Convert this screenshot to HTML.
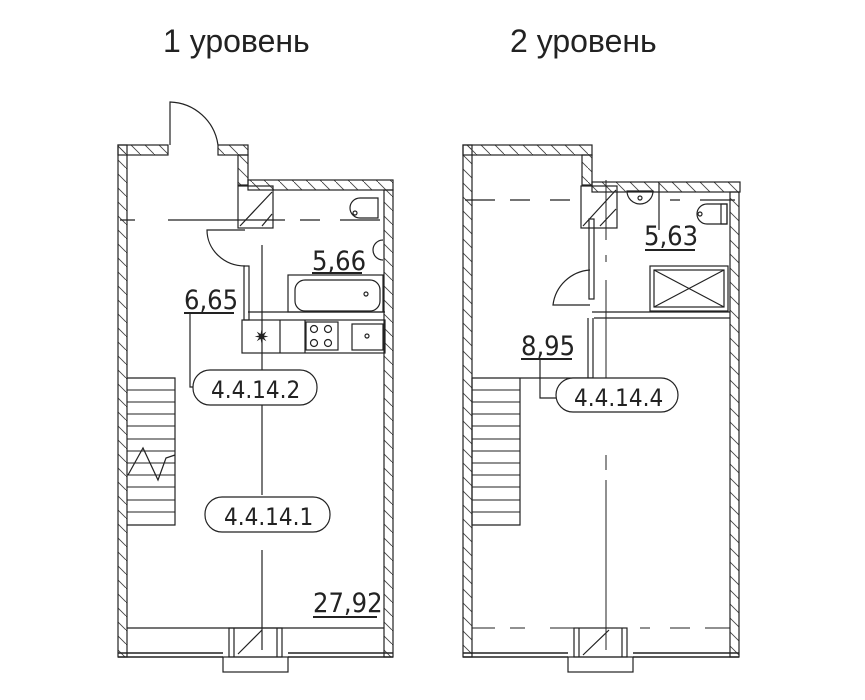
<!DOCTYPE html>
<html><head><meta charset="utf-8"><style>
html,body{margin:0;padding:0;background:#fff;}
svg{display:block;}
text{font-family:"Liberation Sans","DejaVu Sans",sans-serif;}
.d{font-family:"DejaVu Sans Condensed","Liberation Sans Narrow","Liberation Sans",sans-serif;}
</style></head><body>
<svg width="865" height="700" viewBox="0 0 865 700" xmlns="http://www.w3.org/2000/svg">
<defs>
<pattern id="h" width="14" height="14" patternUnits="userSpaceOnUse"><path d="M0,0 L14,14" stroke="#444" stroke-width="0.9"/></pattern>
</defs>
<g fill="none" stroke="#222" stroke-width="1.2">
<text x="163" y="52" font-size="32" fill="#222" stroke="none" font-weight="300">1 уровень</text>
<text x="510" y="52" font-size="32" fill="#222" stroke="none" font-weight="300">2 уровень</text>

<!-- LEFT PLAN -->
<rect x="118" y="145" width="9" height="512" fill="url(#h)"/>
<rect x="118" y="145" width="50" height="10" fill="url(#h)"/>
<rect x="218" y="145" width="30" height="10" fill="url(#h)"/>
<rect x="238" y="155" width="10" height="30" fill="url(#h)"/>
<rect x="248" y="180" width="145" height="10" fill="url(#h)"/>
<rect x="384" y="190" width="9" height="467" fill="url(#h)"/>
<path d="M170,145 V102 A50,50 0 0 1 218,145"/>
<path d="M120,220 H135 M168,220 H285 M300,220 H320 M340,220 H380"/>
<rect x="238" y="186" width="35" height="42"/>
<path d="M240,226 L272,192 M262,226 L272,214"/>
<path d="M245,230 H207 A38,36 0 0 0 245,266"/>
<rect x="244" y="266" width="5" height="54"/>
<path d="M248,312 H385"/>
<rect x="288" y="275" width="95" height="37"/>
<rect x="295" y="280" width="85" height="31" rx="10"/>
<circle cx="366" cy="294" r="2"/>
<path d="M350,208 a10,10 0 0 1 10,-10 h18 v20 h-18 a10,10 0 0 1 -10,-10z"/>
<circle cx="355" cy="213" r="2"/>
<path d="M383,240 a10,10 0 0 0 0,20"/>
<rect x="242" y="320" width="143" height="33"/>
<path d="M280,320 V353 M305,320 V353"/>
<rect x="306" y="322" width="32" height="28"/>
<circle cx="314" cy="329" r="3.5"/><circle cx="328" cy="329" r="3.5"/><circle cx="314" cy="343" r="3.5"/><circle cx="328" cy="343" r="3.5"/>
<rect x="352" y="324" width="31" height="26"/>
<circle cx="367" cy="336" r="2"/>
<text x="254" y="343" font-size="18" fill="#222" stroke="none">✷</text>
<text class="d" x="312" y="270" font-size="27" fill="#222" stroke="none">5,66</text>
<path d="M312,273 H362" stroke-width="2"/>
<text class="d" x="184" y="309" font-size="27" fill="#222" stroke="none">6,65</text>
<path d="M184,313 H234" stroke-width="2"/>
<path d="M190,313 V387 H194"/>
<path d="M262,245 V495 M262,550 V650"/>
<rect x="193" y="370" width="124" height="35" rx="17" fill="#fff"/>
<text class="d" x="211" y="398" font-size="24" fill="#222" stroke="none">4.4.14.2</text>
<rect x="205" y="497" width="125" height="35" rx="17" fill="#fff"/>
<text class="d" x="224" y="525" font-size="24" fill="#222" stroke="none">4.4.14.1</text>
<text class="d" x="313" y="612" font-size="27" fill="#222" stroke="none">27,92</text>
<path d="M313,617 H377" stroke-width="2"/>
<path d="M127,378 H175 V525 H127"/>
<path d="M127,390H175M127,402H175M127,414H175M127,426H175M127,439H175M127,451H175M127,463H175M127,475H175M127,487H175M127,500H175M127,512H175" stroke-width="1"/>
<path d="M128,475 L143,448 L158,480 L166,458 L175,455"/>
<path d="M127,628 H384"/>
<path d="M118,653 H223 M288,653 H393 M118,657 H223 M288,657 H393" stroke-width="1.5"/>
<rect x="229" y="628" width="53" height="29"/>
<path d="M234,628 V657 M277,628 V657 M238,654 L262,630"/>
<rect x="223" y="657" width="65" height="15"/>

<!-- RIGHT PLAN -->
<rect x="463" y="145" width="9" height="512" fill="url(#h)"/>
<rect x="463" y="145" width="129" height="10" fill="url(#h)"/>
<rect x="582" y="155" width="10" height="30" fill="url(#h)"/>
<rect x="592" y="182" width="148" height="10" fill="url(#h)"/>
<rect x="730" y="192" width="9" height="465" fill="url(#h)"/>
<path d="M465,200 H495 M510,200 H530 M550,200 H570 M670,200 H680 M700,200 H735"/>
<rect x="581" y="186" width="36" height="42"/>
<path d="M583,226 L616,190 M600,226 L616,209"/>
<rect x="589" y="219" width="5" height="80"/>
<path d="M590,305 H553 A40,40 0 0 1 590,270"/>
<path d="M627,191 a13,13 0 0 0 26,0 z"/><circle cx="640" cy="198" r="2"/>
<path d="M697,214 a10,10 0 0 1 10,-10 h20 v20 h-20 a10,10 0 0 1 -10,-10z"/>
<rect x="721" y="204" width="6" height="20"/><circle cx="700" cy="214" r="2"/>
<path d="M659,183 V230"/>
<text class="d" x="644" y="245" font-size="27" fill="#222" stroke="none">5,63</text>
<path d="M645,250 H695" stroke-width="2"/>
<rect x="650" y="266" width="78" height="45"/>
<rect x="654" y="270" width="70" height="37"/>
<path d="M654,270 L724,307 M724,270 L654,307"/>
<path d="M592,312 H730 M594,318 H730"/>
<path d="M588,318 V378 M593,318 V378"/>
<path d="M472,378 H593"/>
<text class="d" x="521" y="355" font-size="27" fill="#222" stroke="none">8,95</text>
<path d="M521,359 H572" stroke-width="2"/>
<path d="M540,359 V398 H556"/>
<path d="M606,180 V240 M606,255 V262 M606,280 V410 M606,455 V470 M606,480 V650" stroke-width="1"/>
<rect x="556" y="378" width="122" height="34" rx="17" fill="#fff"/>
<text class="d" x="574" y="406" font-size="24" fill="#222" stroke="none">4.4.14.4</text>
<path d="M472,378 V525 H520 V378"/>
<path d="M472,390H520M472,402H520M472,414H520M472,426H520M472,439H520M472,451H520M472,463H520M472,475H520M472,487H520M472,500H520M472,512H520" stroke-width="1"/>
<path d="M472,628 H495 M510,628 H525 M550,628 H580 M640,628 H650 M670,628 H690 M705,628 H730" stroke-width="1"/>
<path d="M463,653 H568 M633,653 H739 M463,657 H568 M633,657 H739" stroke-width="1.5"/>
<rect x="574" y="628" width="53" height="29"/>
<path d="M579,628 V657 M622,628 V657 M583,655 L609,630"/>
<rect x="568" y="657" width="65" height="15"/>
</g>
</svg>
</body></html>
